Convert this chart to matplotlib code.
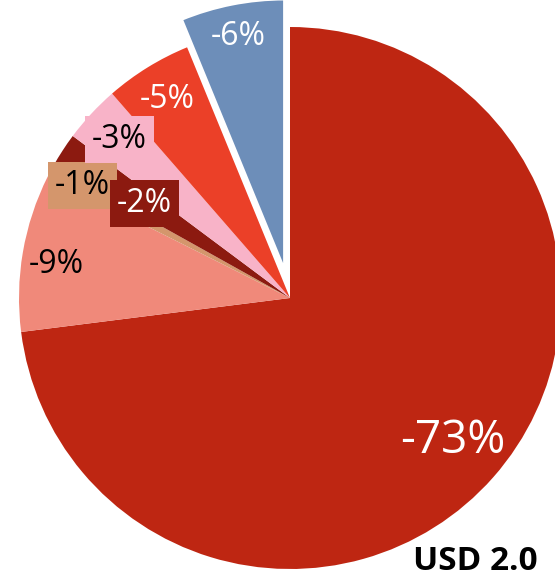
import numpy as np
import matplotlib
matplotlib.use("Agg")
import matplotlib.pyplot as plt

# slices, clockwise from 12 o'clock
labels = ["-73%", "-9%", "-1%", "-2%", "-3%", "-5%", "-6%"]
values = [73.0, 9.4, 0.7, 2.1, 3.4, 5.2, 6.2]
colors = ["#BE2612", "#F0897A", "#D4966C", "#8C1A10", "#F8B3C8", "#EB4028", "#6D8EB9"]
text_colors = ["white", "black", "black", "white", "black", "white", "white"]
boxed = [False, False, True, True, True, False, False]
explode = [0, 0, 0, 0, 0, 0, 0.105]
caption = "USD 2.0"

# label placement per slice (layout): radius and angle nudge in degrees
label_r = [0.80, 0.87, 0.87, 0.64, 0.86, 0.86, 0.88]
label_dt = [0, 1.5, -0.5, 0, 0, 0, 0]
font_sz = [33, 23, 23, 23, 23, 23, 23]

plt.rcParams["font.family"] = ["Open Sans", "DejaVu Sans"]

fig = plt.figure(figsize=(5.55, 5.82), dpi=100)
ax = fig.add_axes([0, 0, 1, 1])
wedges, _ = ax.pie(values, colors=colors, startangle=90, counterclock=False,
                   explode=explode, radius=1.0,
                   wedgeprops=dict(linewidth=0))
wedges[-1].set_edgecolor("white")
wedges[-1].set_linewidth(2)

for w, lab, r, dt, tc, bx, fs in zip(wedges, labels, label_r, label_dt,
                                     text_colors, boxed, font_sz):
    mid = np.deg2rad((w.theta1 + w.theta2) / 2 + dt)
    cx, cy = w.center
    x = cx + r * np.cos(mid)
    y = cy + r * np.sin(mid)
    kw = {}
    if bx:
        kw["bbox"] = dict(boxstyle="square,pad=0.22", fc=w.get_facecolor(), ec="none")
    ax.text(x, y, lab, ha="center", va="center", color=tc, fontsize=fs, **kw)

ax.text(0.455, -1.035, caption, ha="left", va="bottom", fontsize=24,
        fontweight="bold", color="black")

ax.set_aspect("equal")
ax.set_xlim(-290 / 271, 265 / 271)
ax.set_ylim(-284 / 271, 298 / 271)
ax.axis("off")

fig.savefig("out.png", dpi=100)
